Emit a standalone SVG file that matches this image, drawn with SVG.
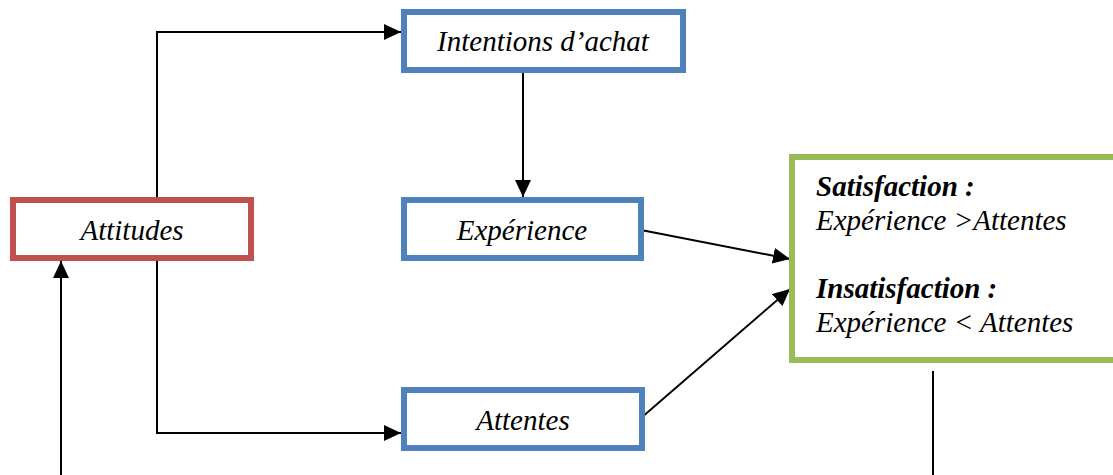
<svg xmlns="http://www.w3.org/2000/svg" width="1113" height="475" viewBox="0 0 1113 475">
<style>
.box{fill:#fff;stroke-width:6}
.red{stroke:#C0504D}
.blue{stroke:#4F81BD}
.green{stroke:#9BBB59}
.t{font-family:'Liberation Serif','DejaVu Serif',serif;font-style:italic;font-size:29px;fill:#000}
.b{font-weight:bold}
.c{text-anchor:middle}
.ln{fill:none;stroke:#000;stroke-width:2}
</style>
<defs>
<marker id="ah" markerUnits="userSpaceOnUse" markerWidth="18" markerHeight="16" refX="17" refY="8" orient="auto">
<path d="M0,0 L17,8 L0,16 z" fill="#000"/>
</marker>
</defs>
<rect width="1113" height="475" fill="#fff"/>
<g id="connectors">
<polyline class="ln" points="157,197 157,32 401,32" marker-end="url(#ah)"/>
<line class="ln" x1="523" y1="73" x2="523" y2="197" marker-end="url(#ah)"/>
<polyline class="ln" points="157,261 157,433 401,433" marker-end="url(#ah)"/>
<line class="ln" x1="61" y1="475" x2="61" y2="261" marker-end="url(#ah)"/>
<line class="ln" x1="641" y1="230" x2="790" y2="259" marker-end="url(#ah)"/>
<line class="ln" x1="641" y1="418" x2="790" y2="289" marker-end="url(#ah)"/>
<line class="ln" x1="933" y1="371" x2="933" y2="475"/>
</g>
<g id="attitudes">
<rect class="box red" x="13" y="200" width="238" height="58"/>
<text class="t c" x="132" y="240" font-family="Liberation Serif">Attitudes</text>
</g>
<g id="intentions">
<rect class="box blue" x="404" y="12" width="279" height="58"/>
<text class="t c" x="543" y="51">Intentions d’achat</text>
</g>
<g id="experience">
<rect class="box blue" x="404" y="200" width="237" height="58"/>
<text class="t c" x="522" y="240">Expérience</text>
</g>
<g id="attentes">
<rect class="box blue" x="404" y="390" width="238" height="58"/>
<text class="t c" x="523" y="430">Attentes</text>
</g>
<g id="satisfaction">
<rect class="box green" x="792" y="157" width="330" height="203"/>
<text class="t b" x="816" y="196">Satisfaction :</text>
<text class="t" x="816" y="230">Expérience &gt;Attentes</text>
<text class="t b" x="816" y="298">Insatisfaction :</text>
<text class="t" x="816" y="332">Expérience &lt; Attentes</text>
</g>
</svg>
